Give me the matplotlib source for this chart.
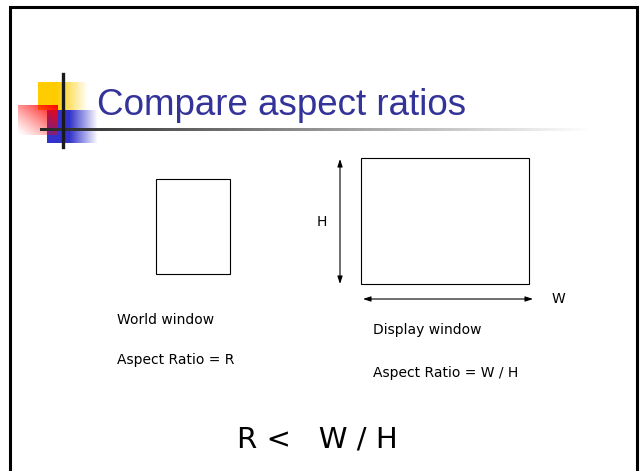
import matplotlib
matplotlib.use("Agg")
import matplotlib.pyplot as plt
import numpy as np
from matplotlib.patches import Rectangle

# slide text
TITLE = "Compare aspect ratios"
LEFT_LABELS = ["World window", "Aspect Ratio = R"]
RIGHT_LABELS = ["Display window", "Aspect Ratio = W / H"]
DIM_LABELS = ["H", "W"]
RELATION = "R <   W / H"

# window boxes in slide pixels: x, y, width, height
WORLD_BOX = [156, 179, 74, 95]
DISPLAY_BOX = [361, 158, 168, 126]

TITLE_COLOR = "#333399"
TITLE_FONT = "Liberation Sans"
BODY_FONT = "DejaVu Sans"

W_PX, H_PX = 643, 471

fig = plt.figure(figsize=(W_PX / 100, H_PX / 100), dpi=100)
ax = fig.add_axes([0, 0, 1, 1])


def grad_img(rgb, alpha):
    # build an RGBA image from a base colour and an alpha map
    img = np.ones(alpha.shape + (4,))
    img[..., :3] = rgb
    img[..., 3] = alpha
    return img


# slide frame (open at the bottom)
ax.plot([10, 10, 637, 637], [H_PX, 7, 7, H_PX], color="black", lw=2.2,
        solid_joinstyle="miter", zorder=5)

# logo: yellow square fading to the right
xx = np.linspace(0, 1, 100)
a = np.clip(1.6 - 1.6 * xx, 0, 1)[None, :].repeat(10, 0)
ax.imshow(grad_img((1.0, 0.8, 0.0), a), extent=[38, 88, 110, 82],
          interpolation="bilinear", zorder=2)

# logo: blue square fading to the right
a = np.clip(1.8 - 1.8 * xx, 0, 1)[None, :].repeat(10, 0)
ax.imshow(grad_img((0.2, 0.2, 0.8), a), extent=[47, 98, 143, 110],
          interpolation="bilinear", zorder=2)

# logo: red square, strong at top right, fading to bottom left
gx, gy = np.meshgrid(np.linspace(0, 1, 60), np.linspace(0, 1, 60))
a = np.clip(0.5 * gx + 0.5 * (1 - gy), 0, 1) ** 1.2
ax.imshow(grad_img((1.0, 0.0, 0.0), a), extent=[18, 58, 135, 105],
          interpolation="bilinear", zorder=3)

# horizontal rule fading out to the right
t = np.linspace(0, 1, 300)
rule = np.ones((1, 300, 4))
rule[0, :, :3] = np.clip(0.15 + 0.85 * t, 0, 1)[:, None]
rule[0, :, 3] = 1.0
ax.imshow(rule, extent=[40, 590, 131.5, 128.5], interpolation="bilinear",
          aspect="auto", zorder=4)

# vertical black bar of the logo
ax.plot([63, 63], [74, 147], color="#1a1a1a", lw=2.4, zorder=5)

ax.set_xlim(0, W_PX)
ax.set_ylim(H_PX, 0)
ax.axis("off")

# title
ax.text(97, 115, TITLE, color=TITLE_COLOR, fontsize=26.5, family=TITLE_FONT,
        ha="left", va="baseline", zorder=6)

# window boxes
for box in (WORLD_BOX, DISPLAY_BOX):
    ax.add_patch(Rectangle((box[0], box[1]), box[2], box[3], fill=False,
                           edgecolor="black", lw=0.8, zorder=4))

# dimension arrows for the display window
arrow = dict(arrowstyle="<|-|>,head_length=0.45,head_width=0.15",
             color="black", lw=0.8, shrinkA=0, shrinkB=0)
ax.annotate("", xy=(340, 159), xytext=(340, 284), arrowprops=arrow)
ax.annotate("", xy=(363, 299), xytext=(533, 299), arrowprops=arrow)

ax.text(322, 222, DIM_LABELS[0], fontsize=10, family=BODY_FONT,
        ha="center", va="center")
ax.text(558, 299, DIM_LABELS[1], fontsize=10, family=BODY_FONT,
        ha="center", va="center")

# captions
for i, lab in enumerate(LEFT_LABELS):
    ax.text(117, 320 + 40 * i, lab, fontsize=10, family=BODY_FONT,
            ha="left", va="center")
for i, lab in enumerate(RIGHT_LABELS):
    ax.text(373, 330 + 43 * i, lab, fontsize=10, family=BODY_FONT,
            ha="left", va="center")

ax.text(237, 448, RELATION, fontsize=21, family=BODY_FONT, ha="left",
        va="baseline")

fig.savefig("out.png", dpi=100)
